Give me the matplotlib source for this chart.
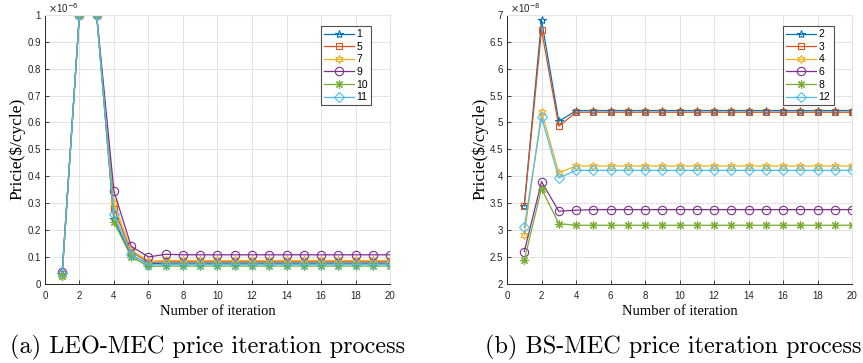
import matplotlib.pyplot as plt

iters = list(range(1, 21))

# LEO-MEC prices (x1e-6)
leo_labels = ['1', '5', '7', '9', '10', '11']
leo_1 = [0.035, 1, 1, 0.24, 0.105, 0.075] + [0.077] * 14
leo_5 = [0.035, 1, 1, 0.28, 0.12, 0.08] + [0.082] * 14
leo_7 = [0.03, 1, 1, 0.30, 0.125, 0.085] + [0.087] * 14
leo_9 = [0.045, 1, 1, 0.345, 0.14, 0.10, 0.11] + [0.108] * 13
leo_10 = [0.03, 1, 1, 0.23, 0.10, 0.065] + [0.066] * 14
leo_11 = [0.04, 1, 1, 0.26, 0.11, 0.07] + [0.072] * 14

# BS-MEC prices (x1e-8)
bs_labels = ['2', '3', '4', '6', '8', '12']
bs_2 = [3.45, 6.9, 5.02] + [5.22] * 17
bs_3 = [3.45, 6.72, 4.93] + [5.19] * 17
bs_4 = [2.9, 5.2, 4.07] + [4.19] * 17
bs_6 = [2.6, 3.9, 3.35, 3.37] + [3.38] * 16
bs_8 = [2.44, 3.77, 3.12] + [3.09] * 17
bs_12 = [3.05, 5.1, 3.97] + [4.11] * 17

colors = ['#0072BD', '#D95319', '#EDB120', '#7E2F8E', '#77AC30', '#4DBEEE']
markers = ['*', 's', (6, 1, 0), 'o', (8, 2, 0), 'D']
msizes = [6, 5, 6, 6, 6, 5]

fig = plt.figure(figsize=(8.63, 3.63), dpi=100)
ax1 = fig.add_axes([0.052, 0.218, 0.400, 0.741])
ax2 = fig.add_axes([0.5875, 0.218, 0.400, 0.741])


def draw(ax, series, labels, ylim, yticks, ylabels, exp):
    for s, lab, c, m, ms in zip(series, labels, colors, markers, msizes):
        ax.plot(iters, s, color=c, marker=m, markersize=ms, markerfacecolor='none',
                markeredgewidth=0.8, linewidth=0.9, label=lab)
    ax.set_xlim(0, 20)
    ax.set_ylim(*ylim)
    ax.set_xticks(range(0, 21, 2))
    ax.set_yticks(yticks)
    ax.set_yticklabels(ylabels)
    ax.grid(True, color='#e3e3e3', linewidth=0.7)
    ax.set_axisbelow(True)
    ax.tick_params(direction='in', labelsize=7, length=3, width=0.6,
                   colors='#262626', pad=3)
    ax.tick_params(axis='x', pad=5)
    for lbl in ax.get_xticklabels() + ax.get_yticklabels():
        lbl.set_fontfamily('Liberation Sans')
    for sp in ['top', 'right']:
        ax.spines[sp].set_color('#e3e3e3')
    for sp in ['left', 'bottom']:
        ax.spines[sp].set_color('#262626')
        ax.spines[sp].set_linewidth(0.7)
    ax.set_ylabel('Pricie($/cycle)', fontfamily='Liberation Serif', fontsize=12.5, labelpad=1)
    ax.set_xlabel('Number of iteration', fontfamily='Liberation Serif', fontsize=10.5, labelpad=3)
    ax.text(0.01, 1.0, r'$\times$10$^{' + exp + '}$', transform=ax.transAxes,
            fontsize=7, fontfamily='Liberation Sans', color='#262626', va='bottom')
    leg = ax.legend(loc='upper right', bbox_to_anchor=(0.955, 0.97),
                    frameon=True, fancybox=False, handlelength=2.8, borderpad=0.3,
                    labelspacing=0.25, handletextpad=0.3, borderaxespad=0.3,
                    prop={'family': 'Liberation Sans', 'size': 7.5})
    leg.get_frame().set_edgecolor('#262626')
    leg.get_frame().set_linewidth(0.8)


draw(ax1, [leo_1, leo_5, leo_7, leo_9, leo_10, leo_11], leo_labels, (0, 1),
     [i / 10 for i in range(11)], ['0', '0.1', '0.2', '0.3', '0.4', '0.5', '0.6', '0.7', '0.8', '0.9', '1'], '-6')
draw(ax2, [bs_2, bs_3, bs_4, bs_6, bs_8, bs_12], bs_labels, (2, 7),
     [2 + i / 2 for i in range(11)], ['2', '2.5', '3', '3.5', '4', '4.5', '5', '5.5', '6', '6.5', '7'], '-8')

fig.text(0.240, 0.044, '(a) LEO-MEC price iteration process', ha='center', va='center',
         fontfamily='cmr10', fontsize=17.5)
fig.text(0.780, 0.044, '(b) BS-MEC price iteration process', ha='center', va='center',
         fontfamily='cmr10', fontsize=17.5)

plt.savefig('out.png', dpi=100)
